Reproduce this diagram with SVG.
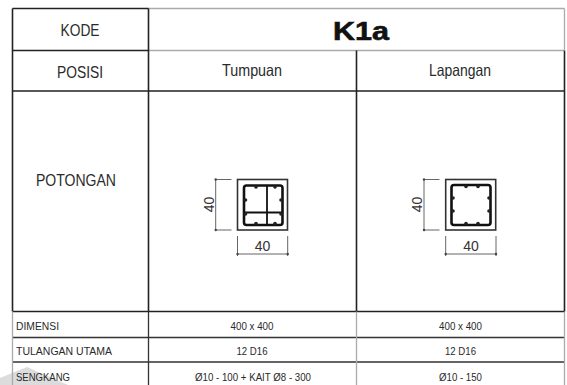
<svg xmlns="http://www.w3.org/2000/svg" width="567" height="385" viewBox="0 0 567 385">
<style>
text{font-family:"Liberation Sans",Arial,sans-serif;fill:#2a2a2a;text-anchor:middle}
.g{stroke:#333;stroke-width:1.3;fill:none}
.l{stroke:#aaa;stroke-width:1.3;fill:none}
.b{stroke:#222;stroke-width:1.6;fill:none}
.s{font-size:11px}
.st{font-size:11px;text-anchor:start}
.m{font-size:16.5px}
.d{stroke:#666;stroke-width:1;fill:none}
.o{stroke:#333;stroke-width:1.6;fill:none}
.t{stroke:#111;stroke-width:2.6;fill:none}
.r{fill:#222}
.n{font-size:14px;fill:#333}
</style>
<defs>
<g id="tick"><circle r="1.2" fill="#444"/></g>
</defs>
<rect width="567" height="385" fill="#fff"/>
<polygon points="0,378 27,367 68,385 0,385" fill="#dcdcdc"/>
<g id="connectors">
<path class="l" d="M148.500 8.500H564.500M148.500 50.500H564.500"/>
<path class="b" d="M12.500 8.500H148.500M12.500 50.500H148.500M12.500 91H565M12.500 311.500H565"/>
<path class="g" d="M12.500 337.500H565M12.500 362H565"/>
<path class="b" d="M12.500 8.500V311.500M148.500 8.500V311.500M356.500 50.500V311.500M564.500 50.500V311.500"/>
<path class="l" d="M12.500 311.500V385M564.500 8.500V50.500M564.500 311.500V385M356.500 311.500V385"/>
<path class="g" d="M148.500 311.500V385"/>
</g>
<g id="kode"><text x="80" y="35.500" class="m" textLength="39" lengthAdjust="spacingAndGlyphs">KODE</text></g>
<g id="k1a"><text x="361" y="39.500" font-size="25" font-weight="700" textLength="56" lengthAdjust="spacingAndGlyphs" style="fill:#111;stroke:#111;stroke-width:.6">K1a</text></g>
<g id="posisi"><text x="80" y="78" class="m" textLength="46" lengthAdjust="spacingAndGlyphs">POSISI</text></g>
<g id="tumpuan"><text x="252" y="76" class="m" textLength="60" lengthAdjust="spacingAndGlyphs">Tumpuan</text></g>
<g id="lapangan"><text x="460" y="76" class="m" textLength="62" lengthAdjust="spacingAndGlyphs">Lapangan</text></g>
<g id="potongan"><text x="76" y="186" class="m" textLength="80" lengthAdjust="spacingAndGlyphs">POTONGAN</text></g>
<g id="section-tumpuan">
<rect class="o" x="237.500" y="179.500" width="50" height="50.500"/>
<rect class="t" x="244" y="185.500" width="38.500" height="39.500" rx="2.500"/>
<path stroke="#111" stroke-width="1.800" fill="none" d="M267 185.500V225M244 212.500H282.500"/>
<g class="r"><circle cx="256" cy="187" r="1.800"/><circle cx="275" cy="187" r="1.800"/><circle cx="256" cy="223.500" r="1.800"/><circle cx="275" cy="223.500" r="1.800"/><circle cx="245.500" cy="200" r="1.800"/><circle cx="281" cy="200" r="1.800"/><circle cx="245.500" cy="214" r="1.800"/><circle cx="281" cy="214" r="1.800"/></g>
<path class="d" d="M215.700 179.500V230M215.700 179.500H231.500M215.700 230H231.500M237.500 236V256M287.700 236V256M237.500 254H287.700"/>
<use href="#tick" x="215.700" y="179.500"/><use href="#tick" x="215.700" y="230"/><use href="#tick" x="237.500" y="254"/><use href="#tick" x="287.700" y="254"/>
<text x="262.500" y="251" class="n">40</text>
<text class="n" transform="translate(213.500 204.500) rotate(-90)">40</text>
</g>
<g id="section-lapangan">
<rect class="o" x="445.700" y="179.500" width="50" height="50.500"/>
<rect class="t" x="451.500" y="185" width="39" height="40" rx="2.500"/>
<g class="r"><circle cx="466" cy="186.500" r="1.800"/><circle cx="478" cy="186.500" r="1.800"/><circle cx="466" cy="223.500" r="1.800"/><circle cx="478" cy="223.500" r="1.800"/><circle cx="453" cy="198" r="1.800"/><circle cx="489" cy="198" r="1.800"/><circle cx="453" cy="211" r="1.800"/><circle cx="489" cy="211" r="1.800"/></g>
<path class="d" d="M424 179.500V230M424 179.500H439.500M424 230H439.500M445.700 236V256M496 236V256M445.700 254H496"/>
<use href="#tick" x="424" y="179.500"/><use href="#tick" x="424" y="230"/><use href="#tick" x="445.700" y="254"/><use href="#tick" x="496" y="254"/>
<text x="471" y="251" class="n">40</text>
<text class="n" transform="translate(421.500 204.500) rotate(-90)">40</text>
</g>
<g id="row-dimensi"><text x="16" y="330" class="st" textLength="43" lengthAdjust="spacingAndGlyphs">DIMENSI</text><text x="252" y="330" class="s" textLength="43" lengthAdjust="spacingAndGlyphs">400 x 400</text><text x="460.500" y="330" class="s" textLength="43" lengthAdjust="spacingAndGlyphs">400 x 400</text></g>
<g id="row-tulangan"><text x="16" y="354.500" class="st" textLength="96" lengthAdjust="spacingAndGlyphs">TULANGAN UTAMA</text><text x="252" y="354.500" class="s" textLength="31" lengthAdjust="spacingAndGlyphs">12 D16</text><text x="460.500" y="354.500" class="s" textLength="31" lengthAdjust="spacingAndGlyphs">12 D16</text></g>
<g id="row-sengkang"><text x="16" y="381" class="st" textLength="54" lengthAdjust="spacingAndGlyphs">SENGKANG</text><text x="253" y="381" class="s" textLength="116" lengthAdjust="spacingAndGlyphs">Ø10 - 100 + KAIT Ø8 - 300</text><text x="460.500" y="381" class="s" textLength="43" lengthAdjust="spacingAndGlyphs">Ø10 - 150</text></g>
</svg>
